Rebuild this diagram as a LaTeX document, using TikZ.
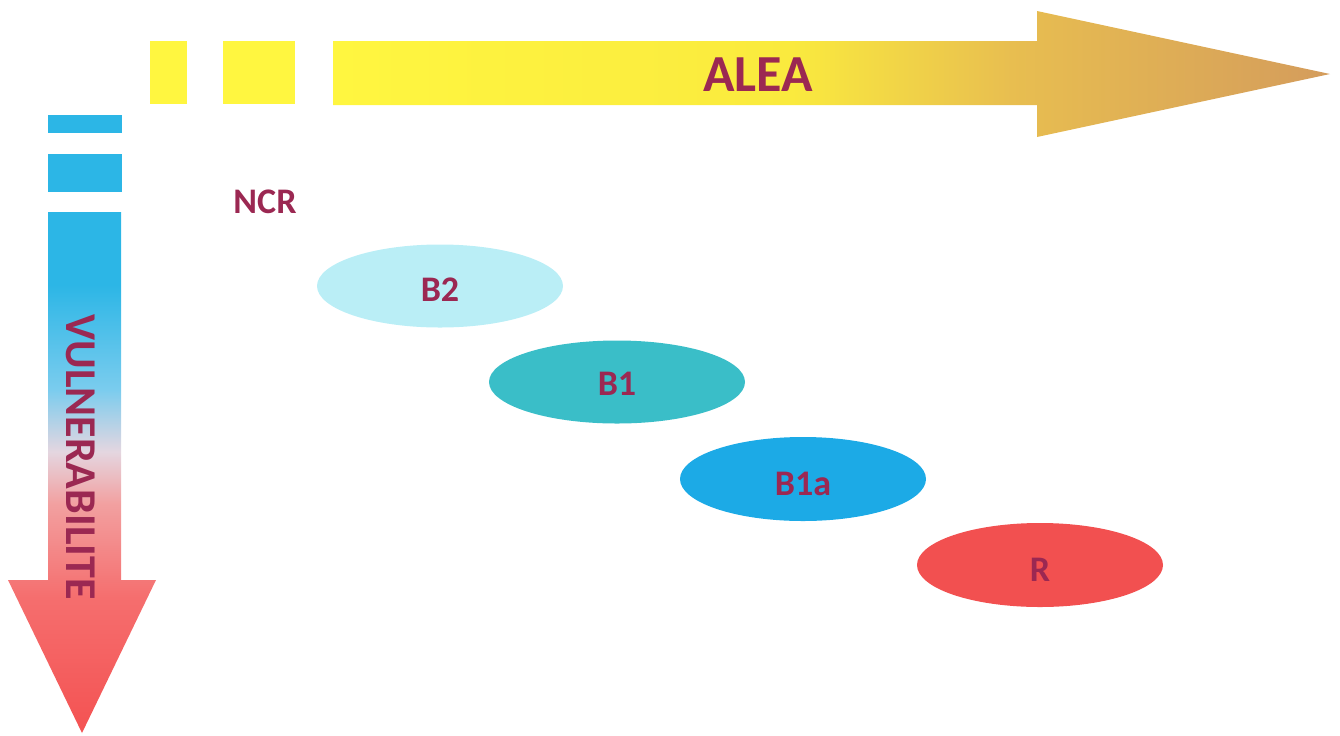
\documentclass[tikz,border=0pt]{standalone}
\usepackage{fontspec}
\setmainfont{Carlito}
\usetikzlibrary{shapes.geometric}
\definecolor{txt}{RGB}{155,40,82}
\definecolor{yel}{RGB}{255,246,64}
\definecolor{yelB}{RGB}{250,234,62}
\definecolor{gold}{RGB}{232,190,80}
\definecolor{brn}{RGB}{212,156,92}
\definecolor{cyanA}{RGB}{44,182,230}
\definecolor{cyanB}{RGB}{122,204,238}
\definecolor{pale}{RGB}{228,214,224}
\definecolor{pinkA}{RGB}{242,160,160}
\definecolor{redA}{RGB}{245,110,110}
\definecolor{redB}{RGB}{244,82,82}
\definecolor{cB2}{RGB}{186,238,246}
\definecolor{cB1}{RGB}{58,190,200}
\definecolor{cB1a}{RGB}{28,170,230}
\definecolor{cR}{RGB}{242,80,80}
\pgfdeclarehorizontalshading{aleashade}{100bp}{color(0bp)=(yel); color(25bp)=(yel); color(48bp)=(yelB); color(59bp)=(gold); color(75bp)=(brn); color(100bp)=(brn)}
\pgfdeclareverticalshading{vulnshade}{100bp}{color(0bp)=(redB); color(25bp)=(redB); color(38bp)=(redA); color(47bp)=(pinkA); color(52bp)=(pale); color(58bp)=(cyanB); color(68bp)=(cyanA); color(75bp)=(cyanA); color(100bp)=(cyanA)}
\tikzset{
  lbl/.style={text=txt, font=\bfseries\fontsize{18}{20}\selectfont, inner sep=0pt},
  blob/.style={ellipse, draw=none, minimum width=123pt, minimum height=41.5pt, inner sep=0pt}
}
\begin{document}
\begin{tikzpicture}[x=0.5pt, y=-0.5pt]
\useasboundingbox (0,0) rectangle (1340,735);
% top arrow (ALEA)
\fill[yel] (150,41) rectangle (187,104);
\fill[yel] (223,41) rectangle (295,104);
\shade[shading=aleashade] (333,41) -- (1037,41) -- (1037,11) -- (1330,74) -- (1037,137) -- (1037,105) -- (333,105) -- cycle;
\node[lbl, font=\bfseries\fontsize{26}{28}\selectfont] (alea) at (758,75) {ALEA};
% left arrow (VULNERABILITE)
\fill[cyanA] (48,115) rectangle (122,133);
\fill[cyanA] (48,154) rectangle (122,192);
\shade[shading=vulnshade] (48,212) -- (121,212) -- (121,580) -- (156,580) -- (82,733) -- (8,580) -- (48,580) -- cycle;
\node[lbl, font=\bfseries\fontsize{22}{24}\selectfont, rotate=-90] (vuln) at (81,457) {VULNERABILITE};
% labels and zones
\node[lbl] (ncr) at (265,202) {NCR};
\node[blob, fill=cB2, label={[lbl, yshift=-2pt]center:B2}] (b2) at (440,286) {};
\node[blob, fill=cB1, minimum width=128pt, label={[lbl, yshift=-1pt]center:B1}] (b1) at (617,382) {};
\node[blob, fill=cB1a, minimum height=42pt, label={[lbl, yshift=-2.5pt]center:B1a}] (b1a) at (803,479) {};
\node[blob, fill=cR, minimum height=42pt, label={[lbl, yshift=-2.5pt]center:R}] (r) at (1040,565) {};
\end{tikzpicture}
\end{document}
